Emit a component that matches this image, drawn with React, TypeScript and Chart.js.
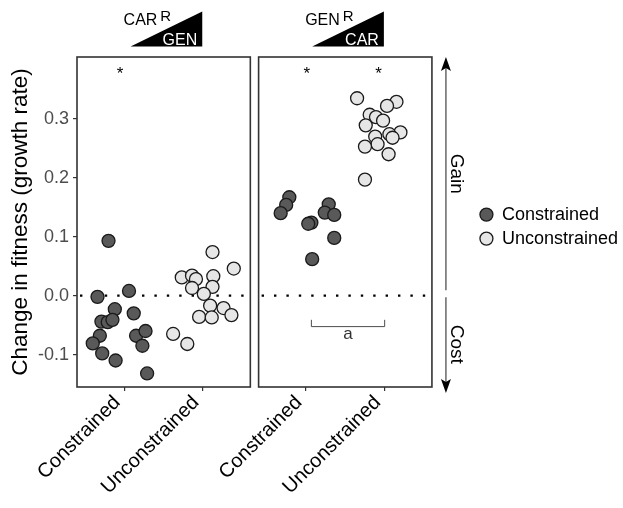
import React, { useEffect, useRef } from "react";
import { Chart, registerables } from "chart.js";

Chart.register(...registerables);

const FONT = "'Liberation Sans', Arial, Helvetica, sans-serif";

// ---- categories, labels ----
const categories = ["Constrained", "Unconstrained"];
const seriesNames = ["Constrained", "Unconstrained"];
const panelResistance = ["CAR", "GEN"];
const panelDrug = ["GEN", "CAR"];
const yTicks = [-0.1, 0, 0.1, 0.2, 0.3];
const yTitle = "Change in fitness (growth rate)";
const gainLabel = "Gain";
const costLabel = "Cost";

// ---- panel 1 (CAR^R, GEN) ----
const p1ConX = [0.8, 0.66, 1.06, 0.88, 1.12, 0.71, 0.79, 0.85, 0.69, 0.6, 0.72, 0.89, 1.15, 1.27, 1.23, 1.29];
const p1ConY = [0.093, -0.002, 0.008, -0.023, -0.03, -0.044, -0.045, -0.041, -0.068, -0.081, -0.098, -0.11, -0.068, -0.06, -0.085, -0.132];
const p1UncX = [2.12, 2.39, 1.73, 1.86, 1.91, 2.13, 1.86, 2.12, 2.01, 2.09, 2.26, 1.95, 2.11, 2.36, 1.62, 1.8];
const p1UncY = [0.074, 0.046, 0.031, 0.034, 0.028, 0.033, 0.013, 0.015, 0.003, -0.017, -0.021, -0.036, -0.037, -0.033, -0.065, -0.082];

// ---- panel 2 (GEN^R, CAR) ----
const p2ConX = [0.79, 0.75, 0.68, 1.29, 1.24, 1.36, 1.07, 1.03, 1.36, 1.08];
const p2ConY = [0.167, 0.154, 0.14, 0.155, 0.141, 0.137, 0.124, 0.122, 0.098, 0.062];
const p2UncX = [1.65, 2.15, 2.03, 1.81, 1.89, 1.98, 1.76, 2.2, 2.06, 1.88, 2.1, 1.91, 1.75, 2.05, 1.75];
const p2UncY = [0.335, 0.329, 0.322, 0.307, 0.303, 0.297, 0.289, 0.277, 0.274, 0.27, 0.268, 0.257, 0.253, 0.24, 0.197];

// ---- annotations ----
const starPanel = [0, 1, 1];
const starX = [0.945, 1.013, 1.924];
const starY = [0.383, 0.383, 0.383];
const bracketPanel = 1;
const bracketX = [1.07, 2.0];
const bracketY = -0.0525;
const bracketTickY = -0.041;
const bracketLabel = "a";

// panel geometry in data units
const X_LO = 0.4;
const X_HI = 2.6;
const PANEL_OFFSETS = [0, 2.305];
const HEADER_X = [1.08, 1.99];

const pts = (xs: number[], ys: number[], off: number) => xs.map((v, i) => ({ x: v + off, y: ys[i] }));

const annotations = {
  id: "annotations",
  beforeDatasetsDraw(chart: any) {
    const { ctx, scales } = chart;
    const x = scales.x, y = scales.y;
    const y0 = y.getPixelForValue(0);
    ctx.save();
    ctx.strokeStyle = "#000";
    ctx.lineWidth = 2.4;
    ctx.setLineDash([2.4, 10]);
    PANEL_OFFSETS.forEach((off) => {
      const l = x.getPixelForValue(off + X_LO);
      const r = x.getPixelForValue(off + X_HI);
      ctx.beginPath();
      ctx.moveTo(l + 3, y0);
      ctx.lineTo(r, y0);
      ctx.stroke();
    });
    ctx.restore();
  },
  afterDraw(chart: any) {
    const { ctx, chartArea: ca, scales } = chart;
    const x = scales.x, y = scales.y;
    ctx.save();
    // frames
    ctx.strokeStyle = "#333";
    ctx.lineWidth = 1.6;
    PANEL_OFFSETS.forEach((off) => {
      const l = x.getPixelForValue(off + X_LO);
      const r = x.getPixelForValue(off + X_HI);
      ctx.strokeRect(l, ca.top, r - l, ca.bottom - ca.top);
    });
    // headers
    PANEL_OFFSETS.forEach((off, i) => {
      const tl = x.getPixelForValue(off + HEADER_X[0]);
      const tr = x.getPixelForValue(off + HEADER_X[1]);
      const base = ca.top - 10.5;
      const apex = ca.top - 45.5;
      ctx.fillStyle = "#000";
      ctx.beginPath();
      ctx.moveTo(tl, base);
      ctx.lineTo(tr, base);
      ctx.lineTo(tr, apex);
      ctx.closePath();
      ctx.fill();
      ctx.textAlign = "left";
      ctx.textBaseline = "alphabetic";
      ctx.font = `16px ${FONT}`;
      ctx.fillText(panelResistance[i], tl - 7, ca.top - 32);
      const w = ctx.measureText(panelResistance[i]).width;
      ctx.font = `15px ${FONT}`;
      ctx.fillText("R", tl - 7 + w + 3, ca.top - 36.5);
      ctx.fillStyle = "#fff";
      ctx.font = `16px ${FONT}`;
      ctx.textAlign = "right";
      ctx.fillText(panelDrug[i], tr - 5, ca.top - 12.5);
    });
    // stars
    ctx.fillStyle = "#000";
    ctx.font = `17px ${FONT}`;
    ctx.textAlign = "center";
    ctx.textBaseline = "alphabetic";
    starX.forEach((sx, i) => {
      const px = x.getPixelForValue(PANEL_OFFSETS[starPanel[i]] + sx);
      ctx.fillText("*", px, y.getPixelForValue(starY[i]) + 9);
    });
    // bracket
    const off = PANEL_OFFSETS[bracketPanel];
    const bl = x.getPixelForValue(off + bracketX[0]);
    const br = x.getPixelForValue(off + bracketX[1]);
    const by = y.getPixelForValue(bracketY);
    const bt = y.getPixelForValue(bracketTickY);
    ctx.strokeStyle = "#4d4d4d";
    ctx.lineWidth = 1;
    ctx.beginPath();
    ctx.moveTo(bl, bt);
    ctx.lineTo(bl, by);
    ctx.lineTo(br, by);
    ctx.lineTo(br, bt);
    ctx.stroke();
    ctx.fillStyle = "#333";
    ctx.font = `17px ${FONT}`;
    ctx.fillText(bracketLabel, (bl + br) / 2, by + 12.8);
    // gain / cost arrows
    const ax = ca.right + 14;
    const y0 = y.getPixelForValue(0);
    ctx.strokeStyle = "#444";
    ctx.lineWidth = 1.2;
    ctx.beginPath();
    ctx.moveTo(ax, y0 - 5.5);
    ctx.lineTo(ax, ca.top + 10);
    ctx.moveTo(ax, y0 + 1.5);
    ctx.lineTo(ax, ca.bottom + 2);
    ctx.stroke();
    ctx.fillStyle = "#000";
    const head = (tipY: number, dir: number) => {
      ctx.beginPath();
      ctx.moveTo(ax, tipY);
      ctx.lineTo(ax - 5, tipY + dir * 14);
      ctx.lineTo(ax, tipY + dir * 11);
      ctx.lineTo(ax + 5, tipY + dir * 14);
      ctx.closePath();
      ctx.fill();
    };
    head(ca.top, 1);
    head(ca.bottom + 6, -1);
    ctx.font = `19px ${FONT}`;
    ctx.textAlign = "center";
    ctx.textBaseline = "middle";
    const drawRot = (t: string, cy: number) => {
      ctx.save();
      ctx.translate(ax + 10.5, cy);
      ctx.rotate(Math.PI / 2);
      ctx.fillText(t, 0, 0);
      ctx.restore();
    };
    drawRot(gainLabel, (ca.top + y0) / 2 - 2.5);
    drawRot(costLabel, (y0 + ca.bottom + 6) / 2);
    ctx.restore();
  },
};

export default function App() {
  const ref = useRef<HTMLCanvasElement>(null);
  useEffect(() => {
    const tickVals = [1, 2, 1 + PANEL_OFFSETS[1], 2 + PANEL_OFFSETS[1]];
    const tickLabels = [categories[0], categories[1], categories[0], categories[1]];
    const chart = new Chart(ref.current as HTMLCanvasElement, {
      type: "scatter",
      data: {
        datasets: [
          {
            label: seriesNames[0],
            data: [...pts(p1ConX, p1ConY, PANEL_OFFSETS[0]), ...pts(p2ConX, p2ConY, PANEL_OFFSETS[1])],
            backgroundColor: "#595959",
            borderColor: "#1a1a1a",
            borderWidth: 1.3,
            pointRadius: 6.5,
            pointHoverRadius: 6.5,
          },
          {
            label: seriesNames[1],
            data: [...pts(p1UncX, p1UncY, PANEL_OFFSETS[0]), ...pts(p2UncX, p2UncY, PANEL_OFFSETS[1])],
            backgroundColor: "#e6e6e6",
            borderColor: "#1a1a1a",
            borderWidth: 1.3,
            pointRadius: 6.5,
            pointHoverRadius: 6.5,
          },
        ],
      },
      options: {
        responsive: false,
        animation: false,
        devicePixelRatio: 1,
        layout: { padding: { top: 57, left: 0, right: -5, bottom: 0 } },
        plugins: {
          tooltip: { enabled: false },
          legend: {
            position: "right",
            fullSize: false,
            maxWidth: 400,
            title: { display: true, text: " ", font: { family: FONT, size: 6 }, padding: 1 },
            labels: {
              usePointStyle: true,
              pointStyle: "circle",
              pointStyleWidth: 13,
              boxHeight: 9.2,
              padding: 6,
              color: "#000",
              font: { family: FONT, size: 18 },
            },
          },
        },
        scales: {
          x: {
            type: "linear",
            min: X_LO,
            max: X_HI + PANEL_OFFSETS[1],
            afterBuildTicks: (s: any) => {
              s.ticks = tickVals.map((v) => ({ value: v }));
            },
            afterFit: (s: any) => {
              s.height = 121;
            },
            grid: { drawOnChartArea: false, tickLength: 4, color: "#333", lineWidth: 1.2 },
            border: { display: false },
            ticks: {
              minRotation: 45,
              maxRotation: 45,
              padding: 0,
              labelOffset: -7,
              color: "#000",
              font: { family: FONT, size: 20 },
              callback: (v: any) => {
                const i = tickVals.indexOf(Number(v));
                return i >= 0 ? tickLabels[i] : "";
              },
            },
          },
          y: {
            type: "linear",
            min: -0.155,
            max: 0.405,
            afterBuildTicks: (s: any) => {
              s.ticks = yTicks.map((v) => ({ value: v }));
            },
            afterFit: (s: any) => {
              s.width = 77;
            },
            grid: { drawOnChartArea: false, tickLength: 4, color: "#333", lineWidth: 1.2 },
            border: { display: false },
            ticks: {
              padding: 4,
              color: "#4d4d4d",
              font: { family: FONT, size: 18 },
              callback: (v: any) => Number(v).toFixed(1),
            },
            title: {
              display: true,
              text: yTitle,
              color: "#000",
              font: { family: FONT, size: 22.5 },
              padding: { top: 7, bottom: 0 },
            },
          },
          yR: {
            type: "linear",
            position: "right",
            display: true,
            grid: { display: false },
            border: { display: false },
            ticks: { display: false },
            afterFit: (s: any) => {
              s.width = 42;
            },
          },
        },
      },
      plugins: [annotations],
    } as any);
    return () => chart.destroy();
  }, []);
  return (
    <div style={{ position: "fixed", left: 0, top: 0, width: 623, height: 508, background: "#fff" }}>
      <canvas ref={ref} width={623} height={508} style={{ display: "block" }} />
    </div>
  );
}
